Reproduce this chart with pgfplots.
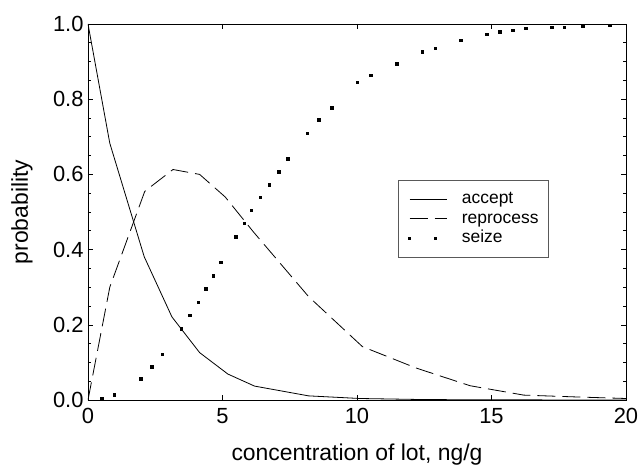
\documentclass[border=0pt]{standalone}
\usepackage{fontspec}
\setmainfont{Liberation Sans}
\usepackage{pgfplots}
\pgfplotsset{compat=1.18}
\pgfplotsset{
    linelegend/.style={legend image code/.code={\draw[##1] (0bp,0bp) -- (37bp,0bp);}},
    dotlegend/.style={legend image code/.code={\path[##1] plot coordinates {(0bp,0bp) (26bp,0bp)};}},
}

\begin{document}
\begin{tikzpicture}
\begin{axis}[
    name=ax,
    scale only axis,
    width=538bp, height=376bp,
    xmin=0, xmax=20, ymin=0, ymax=1,
    xtick={0,5,10,15,20},
    ytick={0,0.2,0.4,0.6,0.8,1.0},
    minor y tick num=3,
    tick align=inside,
    major tick length=5bp,
    minor tick length=3bp,
    axis line style={line width=0.8bp},
    every tick/.style={black, line width=0.6bp},
    /pgf/number format/assume math mode=true,
    yticklabel style={/pgf/number format/fixed, /pgf/number format/fixed zerofill,
        /pgf/number format/precision=1, xshift=-1bp},
    tick label style={font=\fontsize{22}{26}\selectfont},
    xticklabel style={yshift=-4.5bp},
    xlabel={concentration of lot, ng/g},
    ylabel={probability},
    label style={font=\fontsize{23}{27}\selectfont},
    xlabel style={at={(axis description cs:0.5,-0.146)}, anchor=center},
    ylabel style={at={(axis description cs:-0.1227,0.5)}, anchor=center},
    legend cell align=left,
    legend style={at={(rel axis cs:0.576,0.585)}, anchor=north west,
        draw=gray!70!black, line width=0.7bp,
        font=\fontsize{17.5}{20}\selectfont,
        inner xsep=10bp, inner ysep=10.5bp,
        row sep=2.5bp, column sep=15bp,
        nodes={inner xsep=0bp, inner ysep=0bp, text height=13bp, text depth=4bp}},
]
\addplot[black, line width=0.8bp, linelegend] coordinates {
    (0,1) (0.81,0.683) (2.09,0.381) (3.12,0.221) (4.15,0.126) (5.2,0.069)
    (6.19,0.037) (8.2,0.011) (10.1,0.004) (12.2,0.0015) (14.2,0.0005) (20,0)
};
\addlegendentry{accept}

\addplot[black, line width=0.8bp, dash pattern=on 18bp off 7bp, linelegend] coordinates {
    (0,0) (0.81,0.3) (2.11,0.555) (3.16,0.613) (4.15,0.6) (5.1,0.54)
    (6.15,0.447) (8.2,0.275) (10.2,0.142) (12.2,0.085) (14.2,0.038)
    (16.2,0.013) (18.2,0.008) (20,0.004)
};
\addlegendentry{reprocess}

\addplot[black, only marks, mark=square*, mark size=1.3bp, dotlegend] coordinates {
    (0.5,0.003) (0.97,0.014) (1.95,0.057) (2.36,0.089) (2.76,0.122)
    (3.47,0.19) (3.78,0.226) (4.09,0.26) (4.37,0.296) (4.65,0.33)
    (4.94,0.366) (5.5,0.435) (5.8,0.47) (6.06,0.505) (6.4,0.539)
    (6.74,0.573) (7.09,0.607) (7.43,0.641) (8.15,0.71) (8.58,0.745)
    (9.05,0.777) (10.0,0.845) (10.5,0.864) (11.47,0.895) (12.42,0.926)
    (12.9,0.936) (13.86,0.957) (14.83,0.973) (15.3,0.979) (15.79,0.983)
    (16.27,0.989) (17.23,0.991) (17.7,0.992) (18.4,0.995) (19.4,0.997)
};
\addlegendentry{seize}
\end{axis}
\pgfresetboundingbox
\path ([xshift=-88bp,yshift=-66bp]ax.south west) rectangle ([xshift=13bp,yshift=24bp]ax.north east);
\end{tikzpicture}
\end{document}
